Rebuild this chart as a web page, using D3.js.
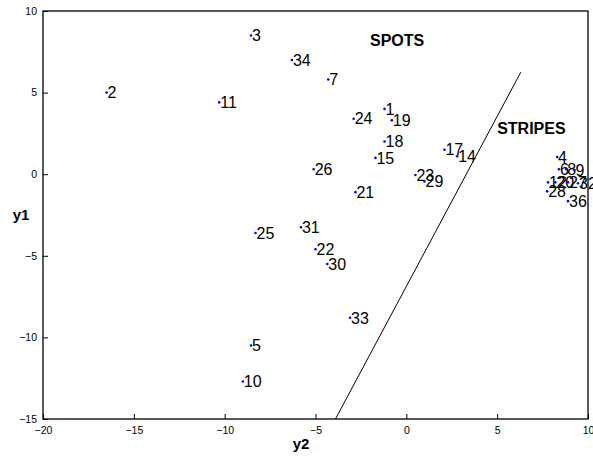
<!DOCTYPE html>
<html>
<head>
<meta charset="utf-8">
<script src="https://cdn.jsdelivr.net/npm/d3@7"></script>
<style>
  body { margin: 0; background: #fff; }
  svg { display: block; font-family: "Liberation Sans", Arial, Helvetica, sans-serif; }
  .tick text { font-size: 10.5px; fill: #000; }
  .lbl { font-size: 16px; fill: #000; }
  .axlabel { font-size: 15px; font-weight: bold; fill: #000; }
  .note { font-size: 16px; font-weight: bold; fill: #000; }
</style>
</head>
<body>
<script>
const ids = ['1', '2', '3', '4', '5', '6', '7', '8', '9', '10', '11', '12', '14', '15', '17', '18', '19', '20',
  '21', '22', '23', '24', '25', '26', '27', '28', '29', '30', '31', '32', '33', '34', '36'];
const y2 = [-1.2, -16.5, -8.55, 8.3, -8.55, 8.4, -4.3, 8.8, 9.25, -9.0, -10.3, 7.8, 2.8, -1.7, 2.1, -1.2, -0.8, 8.2,
  -2.8, -5.0, 0.5, -2.9, -8.3, -5.1, 8.9, 7.75, 1.0, -4.35, -5.8, 9.45, -3.1, -6.3, 8.9];
const y1 = [4.0, 5.0, 8.5, 1.05, -10.5, 0.3, 5.8, 0.3, 0.25, -12.7, 4.4, -0.5, 1.1, 1.0, 1.5, 2.0, 3.3, -0.5,
  -1.1, -4.6, -0.05, 3.4, -3.6, 0.3, -0.5, -1.05, -0.45, -5.5, -3.25, -0.55, -8.8, 7.0, -1.65];

const lineY2 = [-3.9, 6.3];
const lineY1 = [-15, 6.25];

const notes = [{ text: 'SPOTS', x: -2.0, y: 8.2 }, { text: 'STRIPES', x: 5.0, y: 2.8 }];

const xTicks = [-20, -15, -10, -5, 0, 5, 10];
const yTicks = [-15, -10, -5, 0, 5, 10];

const width = 593, height = 457;
const margin = { top: 11, right: 5, bottom: 38, left: 43 };

const svg = d3.select('body').append('svg')
  .attr('width', width)
  .attr('height', height);

const x = d3.scaleLinear().domain([-20, 10]).range([margin.left, width - margin.right]);
const y = d3.scaleLinear().domain([-15, 10]).range([height - margin.bottom, margin.top]);

svg.append('g')
  .attr('transform', `translate(0,${height - margin.bottom})`)
  .call(d3.axisBottom(x).tickValues(xTicks).tickSizeInner(-5).tickSizeOuter(0).tickPadding(8))
  .call(g => g.select('.domain').remove());

svg.append('g')
  .attr('transform', `translate(${margin.left},0)`)
  .call(d3.axisLeft(y).tickValues(yTicks).tickSizeInner(-5).tickSizeOuter(0).tickPadding(6))
  .call(g => g.select('.domain').remove());

svg.append('rect')
  .attr('x', x(-20)).attr('y', y(10))
  .attr('width', x(10) - x(-20)).attr('height', y(-15) - y(10))
  .attr('fill', 'none').attr('stroke', '#000').attr('stroke-width', 1.3);

// separating line
svg.append('line')
  .attr('x1', x(lineY2[0])).attr('y1', y(lineY1[0]))
  .attr('x2', x(lineY2[1])).attr('y2', y(lineY1[1]))
  .attr('stroke', '#000').attr('stroke-width', 1);

const pts = ids.map((id, i) => ({ id, a: y2[i], b: y1[i] }));

svg.append('g').selectAll('text')
  .data(pts)
  .enter().append('text')
  .attr('class', 'lbl')
  .attr('x', d => x(d.a) + 1)
  .attr('y', d => y(d.b))
  .attr('dy', '0.36em')
  .text(d => d.id);

svg.append('g').selectAll('circle')
  .data(pts)
  .enter().append('circle')
  .attr('cx', d => x(d.a))
  .attr('cy', d => y(d.b))
  .attr('r', 1.3)
  .attr('fill', '#0000ff');

svg.selectAll('.note')
  .data(notes)
  .enter().append('text')
  .attr('class', 'note')
  .attr('x', d => x(d.x))
  .attr('y', d => y(d.y))
  .attr('dy', '0.36em')
  .text(d => d.text);

svg.append('text')
  .attr('class', 'axlabel')
  .attr('x', 301)
  .attr('y', 449)
  .attr('text-anchor', 'middle')
  .text('y2');

svg.append('text')
  .attr('class', 'axlabel')
  .attr('x', 21)
  .attr('y', y(-2.5))
  .attr('dy', '0.36em')
  .attr('text-anchor', 'middle')
  .text('y1');
</script>
</body>
</html>
